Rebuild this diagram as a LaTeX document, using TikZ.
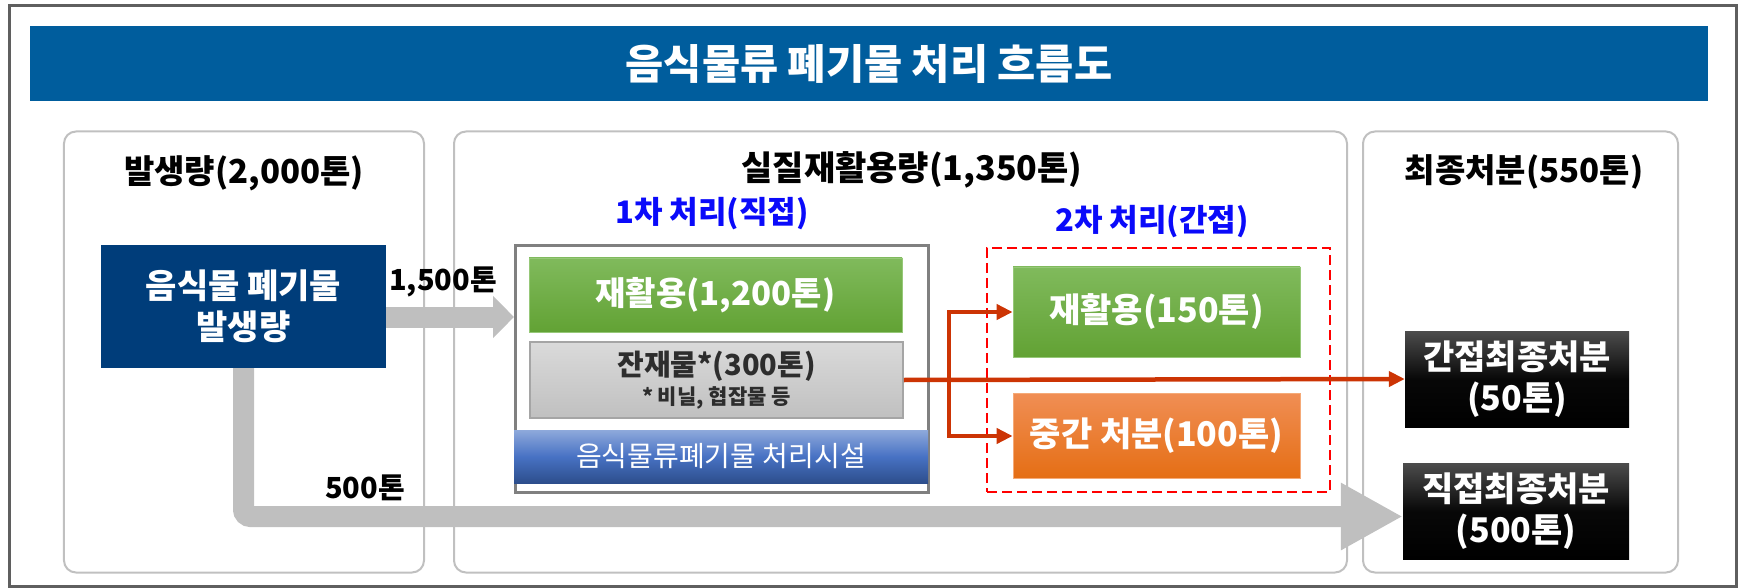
\documentclass[tikz,border=0pt]{standalone}
\usepackage{fontspec}
\setmainfont{Noto Sans CJK KR}
\usetikzlibrary{arrows.meta}
\newcommand\fsz[2]{\fontsize{#1bp}{#2bp}\selectfont}
\definecolor{framegray}{RGB}{95,95,95}
\definecolor{bannerblue}{RGB}{0,93,157}
\definecolor{panelgray}{RGB}{192,192,192}
\definecolor{navy}{RGB}{0,61,122}
\definecolor{arrowgray}{RGB}{191,191,191}
\definecolor{redline}{RGB}{204,52,4}
\definecolor{greentop}{RGB}{128,186,92}
\definecolor{greenbot}{RGB}{98,162,52}
\definecolor{greenedge}{RGB}{150,200,120}
\definecolor{oratop}{RGB}{240,142,84}
\definecolor{orabot}{RGB}{229,110,20}
\definecolor{oraedge}{RGB}{245,170,120}
\definecolor{bluetop}{RGB}{142,169,219}
\definecolor{bluemid}{RGB}{72,114,196}
\definecolor{bluebot}{RGB}{45,78,140}
\definecolor{stagegray}{RGB}{128,128,128}
\definecolor{restop}{RGB}{218,218,218}
\definecolor{resbot}{RGB}{192,192,192}
\definecolor{resedge}{RGB}{165,165,165}
\definecolor{restext}{RGB}{45,45,45}
\definecolor{labelblue}{RGB}{10,10,250}
\begin{document}
\begin{tikzpicture}[x=1bp,y=-1bp,
  panel/.style={draw=panelgray,line width=2bp,rounded corners=12bp,inner sep=0pt},
  hdr/.style={font=\bfseries\fsz{33}{38},text=black,inner sep=0pt},
  stagelabel/.style={font=\bfseries\fsz{31}{34},text=labelblue,inner sep=0pt},
  whitetext/.style={text=white,font=\bfseries\fsz{33}{40},align=center,inner sep=0pt},
  greenbox/.style={whitetext,top color=greentop,bottom color=greenbot,draw=greenedge,line width=0.8bp},
  orangebox/.style={whitetext,top color=oratop,bottom color=orabot,draw=oraedge,line width=0.8bp},
  blackbox/.style={text=white,font=\bfseries\fsz{34}{41},align=center,inner sep=0pt,top color=black!70,bottom color=black,middle color=black!97},
  grayarrow/.style={draw=arrowgray,line width=21bp},
  redarrow/.style={draw=redline,line width=4.5bp,-{Triangle[length=16bp,width=15bp]}},
  amount/.style={font=\bfseries\fsz{29}{32},inner sep=0pt}
]
\useasboundingbox (0,0) rectangle (1739,588);
% outer frame
\draw[framegray,line width=3bp] (9,5.5) rectangle (1736,586.5);
% banner
\node[fill=bannerblue,minimum width=1678bp,minimum height=75bp,inner sep=0pt,
      text=white,font=\bfseries\fsz{41.5}{46}] (title) at (869,63.5) {음식물류 폐기물 처리 흐름도};
% panels
\node[panel,minimum width=360bp,minimum height=441bp] (p1) at (244,352) {};
\node[panel,minimum width=893bp,minimum height=441bp] (p2) at (900.5,352) {};
\node[panel,minimum width=315bp,minimum height=441bp] (p3) at (1520.5,352) {};
\node[hdr] (h1) at (244,173) {발생량(2,000톤)};
\node[hdr,font=\bfseries\fsz{34}{38}] (h2) at (912,170) {실질재활용량(1,350톤)};
\node[hdr] (h3) at (1524,172) {최종처분(550톤)};
% source box
\node[whitetext,font=\bfseries\fsz{34}{41},fill=navy,minimum width=285bp,minimum height=123bp] (src) at (243.5,306.5) {음식물 폐기물\\발생량};
% stage 1
\node[stagelabel] (l1) at (712,214) {1차 처리(직접)};
\node[draw=stagegray,line width=3bp,fill=white,minimum width=413bp,minimum height=247bp,inner sep=0pt] (s1) at (722,369) {};
\node[greenbox,minimum width=373bp,minimum height=74bp] (g1) at (715.5,295) {재활용(1,200톤)};
\node[top color=restop,bottom color=resbot,draw=resedge,line width=1.5bp,minimum width=373bp,minimum height=76bp,inner sep=0pt] (r1) at (716.5,380) {};
\node[text=restext,font=\bfseries\fsz{29}{34},inner sep=0pt] (r1t) at (716.5,366) {잔재물*(300톤)};
\node[text=restext,font=\bfseries\fsz{21}{24},inner sep=0pt] (r1s) at (716.5,398) {* 비닐, 협잡물 등};
\node[top color=bluetop,bottom color=bluebot,middle color=bluemid,minimum width=414bp,minimum height=53bp,inner sep=0pt,
      text=white,font=\fsz{28}{32}] (fac) at (721,456.5) {음식물류폐기물 처리시설};
% stage 2
\node[stagelabel] (l2) at (1152,222) {2차 처리(간접)};
\node[draw=red,line width=2.2bp,dash pattern=on 10bp off 5bp,minimum width=343bp,minimum height=244bp,inner sep=0pt] (s2) at (1158.5,370) {};
\node[greenbox,font=\bfseries\fsz{34}{40},minimum width=287bp,minimum height=90bp] (g2) at (1156.5,312) {재활용(150톤)};
\node[orangebox,font=\bfseries\fsz{34}{40},minimum width=287bp,minimum height=85bp] (o2) at (1156.5,436) {중간 처분(100톤)};
% final boxes
\node[blackbox,minimum width=224bp,minimum height=96bp] (f1) at (1517,379) {간접최종처분\\(50톤)};
\node[blackbox,minimum width=226bp,minimum height=96bp] (f2) at (1516,511) {직접최종처분\\(500톤)};
% gray arrows
\coordinate (a1y) at (0,317);
\coordinate (a2y) at (0,516.5);
\draw[grayarrow,-{Triangle[length=21bp,width=41bp]}] (src.east |- a1y) -- (s1.west |- a1y);
\draw[grayarrow,rounded corners=7bp,-{Triangle[length=62bp,width=63bp]}] (src.south) |- (f2.west |- a2y);
\node[amount] (t1500) at (443,282) {1,500톤};
\node[amount] (t500) at (365,488) {500톤};
% red connectors
\coordinate (jn) at (949,379);
\draw[redarrow] (r1.east) -- (f1.west);
\draw[redarrow] (jn) |- (g2.west);
\draw[redarrow] (jn) |- (o2.west);
\end{tikzpicture}
\end{document}
